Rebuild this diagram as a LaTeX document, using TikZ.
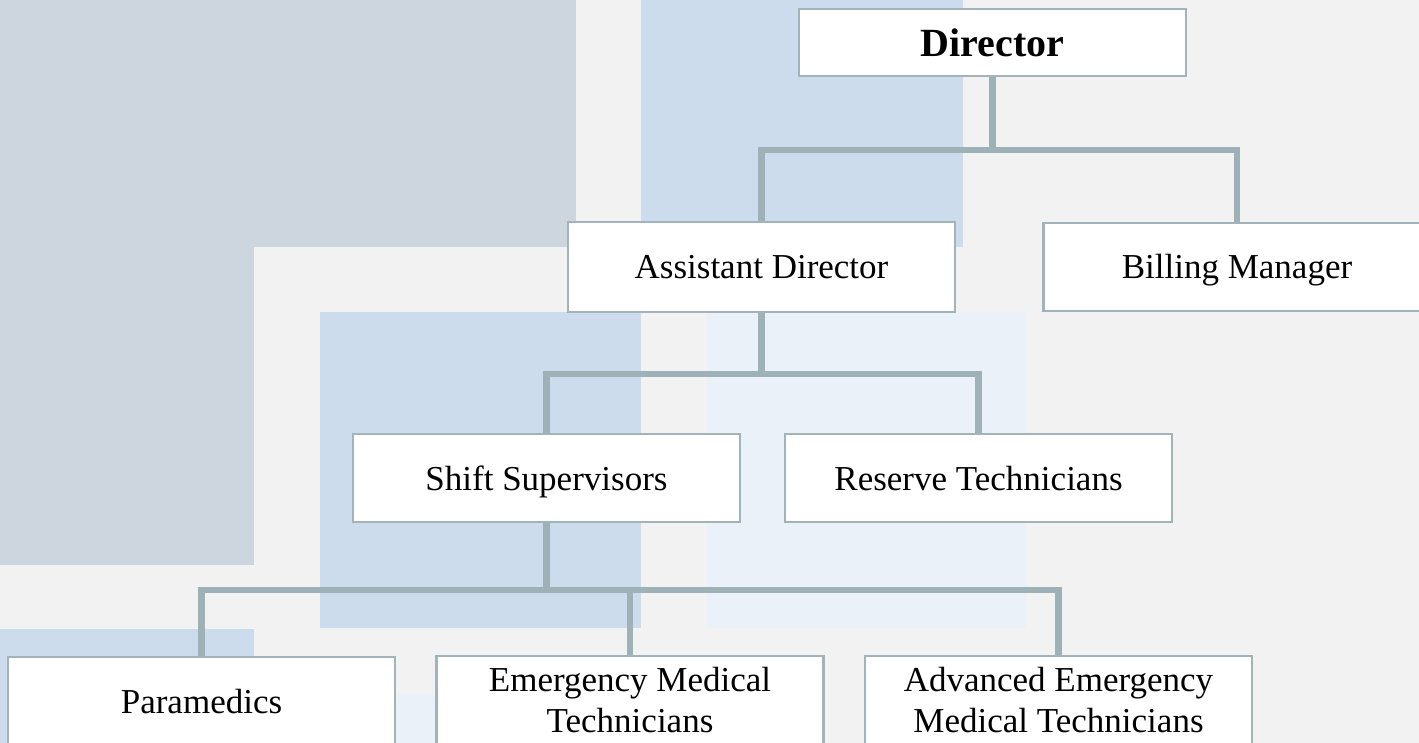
\documentclass[tikz,border=0pt]{standalone}
\usepackage{fontspec}
\setmainfont{Liberation Serif}
\definecolor{bgc}{HTML}{F2F2F2}
\definecolor{grayblue}{HTML}{CDD5DF}
\definecolor{midblue}{HTML}{CCDCEC}
\definecolor{paleblue}{HTML}{EAF1F9}
\definecolor{linec}{HTML}{9EB1B7}
\definecolor{borderc}{HTML}{A2B4BA}
\begin{document}
\begin{tikzpicture}[x=1pt,y=-1pt,
  orgbox/.style={draw=borderc, line width=2.6pt, fill=white, rectangle,
    minimum width=387pt, minimum height=88pt, inner sep=0pt, align=center,
    font=\fontsize{35}{41}\selectfont, text height=24pt, text depth=0pt},
  twoline/.style={text height=65pt, text depth=0pt},
  conn/.style={draw=linec, line width=6.5pt, line join=miter}]
\useasboundingbox (0,0) rectangle (1419,743);
\clip (0,0) rectangle (1419,743);
% background
\fill[bgc] (0,0) rectangle (1419,743);
\fill[grayblue] (0,0) rectangle (576,247);
\fill[grayblue] (0,0) rectangle (254,565);
\fill[midblue] (641,0) rectangle (963,247);
\fill[midblue] (320,312) rectangle (641,628);
\fill[paleblue] (707,312) rectangle (1026,628);
\fill[midblue] (0,629) rectangle (254,743);
\fill[paleblue] (396,694) rectangle (700,743);
% nodes
\node[orgbox, minimum height=67pt, font=\fontsize{40}{46}\selectfont\bfseries, text height=28pt] (dir) at (992.5,42.5) {Director};
\node[orgbox, minimum height=90pt] (asst) at (761.5,267) {Assistant Director};
\node[orgbox] (bill) at (1237,267) {Billing Manager};
\node[orgbox] (shift) at (546.5,478) {Shift Supervisors};
\node[orgbox] (res) at (978.5,478) {Reserve Technicians};
\node[orgbox] (para) at (201.5,701) {Paramedics};
\node[orgbox, twoline] (emt) at (630,700) {Emergency Medical\\Technicians};
\node[orgbox, twoline] (aemt) at (1058.5,700) {Advanced Emergency\\Medical Technicians};
% bus levels
\coordinate (b1) at (0,150);
\coordinate (b2) at (0,374);
\coordinate (b3) at (0,590);
% connectors
\draw[conn] (dir.south) -- (dir.south |- b1);
\draw[conn] (asst.north) -- (asst.north |- b1) -- (bill.north |- b1) -- (bill.north);
\draw[conn] (asst.south) -- (asst.south |- b2);
\draw[conn] (shift.north) -- (shift.north |- b2) -- (res.north |- b2) -- (res.north);
\draw[conn] (shift.south) -- (shift.south |- b3);
\draw[conn] (para.north) -- (para.north |- b3) -- (aemt.north |- b3) -- (aemt.north);
\draw[conn] (emt.north) -- (emt.north |- b3);
\end{tikzpicture}
\end{document}
